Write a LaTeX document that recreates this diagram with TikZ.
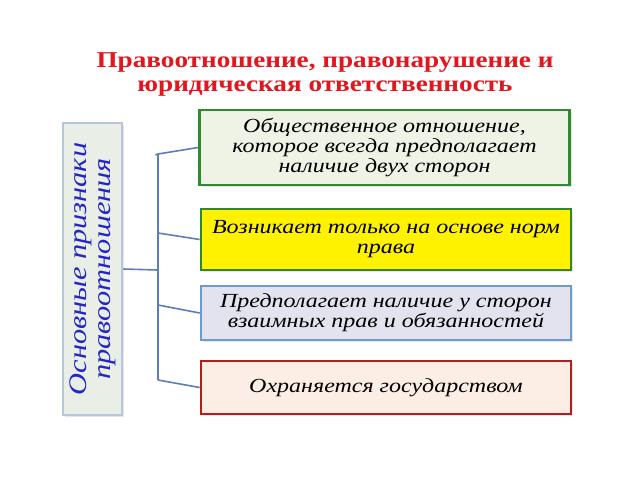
\documentclass[tikz,border=0pt]{standalone}
\usepackage{fontspec}
\setmainfont[FakeStretch=1.2]{Liberation Serif}
\usetikzlibrary{shadows}

\definecolor{titlered}{RGB}{225,22,30}
\definecolor{signblue}{RGB}{36,36,200}
\definecolor{treeline}{RGB}{92,126,184}
\definecolor{sidefill}{RGB}{233,239,230}
\definecolor{sideedge}{RGB}{182,198,220}
\definecolor{greenfill}{RGB}{238,243,229}
\definecolor{greenedge}{RGB}{46,140,46}
\definecolor{yellowedge}{RGB}{50,135,34}
\definecolor{lilacfill}{RGB}{227,227,240}
\definecolor{lilacedge}{RGB}{108,155,210}
\definecolor{peachfill}{RGB}{253,238,229}
\definecolor{peachedge}{RGB}{178,30,30}

\begin{document}
\begin{tikzpicture}[x=0.75pt,y=-0.75pt,
      line width=2pt,
      sign box/.style={draw,rectangle,align=center,minimum width=277.5pt,
        font=\fontsize{15}{15}\selectfont\itshape,
        drop shadow={opacity=0.2,shadow xshift=1.5pt,shadow yshift=-1.5pt}},
      branch/.style={draw=treeline,line width=1.2pt}]

    \useasboundingbox (0,0) rectangle (640,480);

    % title
    \node[text=titlered,align=center,font=\fontsize{17}{18}\selectfont\bfseries] (title)
      at (325,74) {Правоотношение, правонарушение и\\юридическая ответственность};

    % left box
    \node[draw=sideedge,fill=sidefill,rotate=90,minimum width=219pt,minimum height=44.25pt,
      align=center,text=signblue,font=\fontsize{19}{18}\selectfont\itshape,
      drop shadow={opacity=0.2,shadow xshift=1.5pt,shadow yshift=-1.5pt}] (signs)
      at (92.5,269) {Основные признаки\\правоотношения};

    % right boxes
    \node[sign box,fill=greenfill,draw=greenedge,minimum height=56.25pt] (s1)
      at (384.5,147.5) {Общественное отношение,\\которое всегда предполагает\\наличие двух сторон};
    \node[sign box,fill=yellow,draw=yellowedge,minimum height=45.75pt] (s2)
      at (386,239.5) {Возникает только на основе норм\\права};
    \node[sign box,fill=lilacfill,draw=lilacedge,minimum height=40.5pt] (s3)
      at (386,313) {Предполагает наличие у сторон\\взаимных прав и обязанностей};
    \node[sign box,fill=peachfill,draw=peachedge,minimum height=39.75pt] (s4)
      at (386,387.5) {Охраняется государством};

    % tree
    \coordinate (top) at (158,154);
    \coordinate (j2) at (158,233);
    \coordinate (mid) at (158,270);
    \coordinate (j3) at (158,305);
    \coordinate (bot) at (158,380);
    \coordinate (tick) at (155.5,155);

    \path[branch]
    (tick) edge (top)
    (top) edge (bot)
    (signs.south) edge (mid)
    (top) edge (s1.west)
    (j2) edge (s2.west)
    (j3) edge (s3.west)
    (bot) edge (s4.west)
    ;
  \end{tikzpicture}
\end{document}
